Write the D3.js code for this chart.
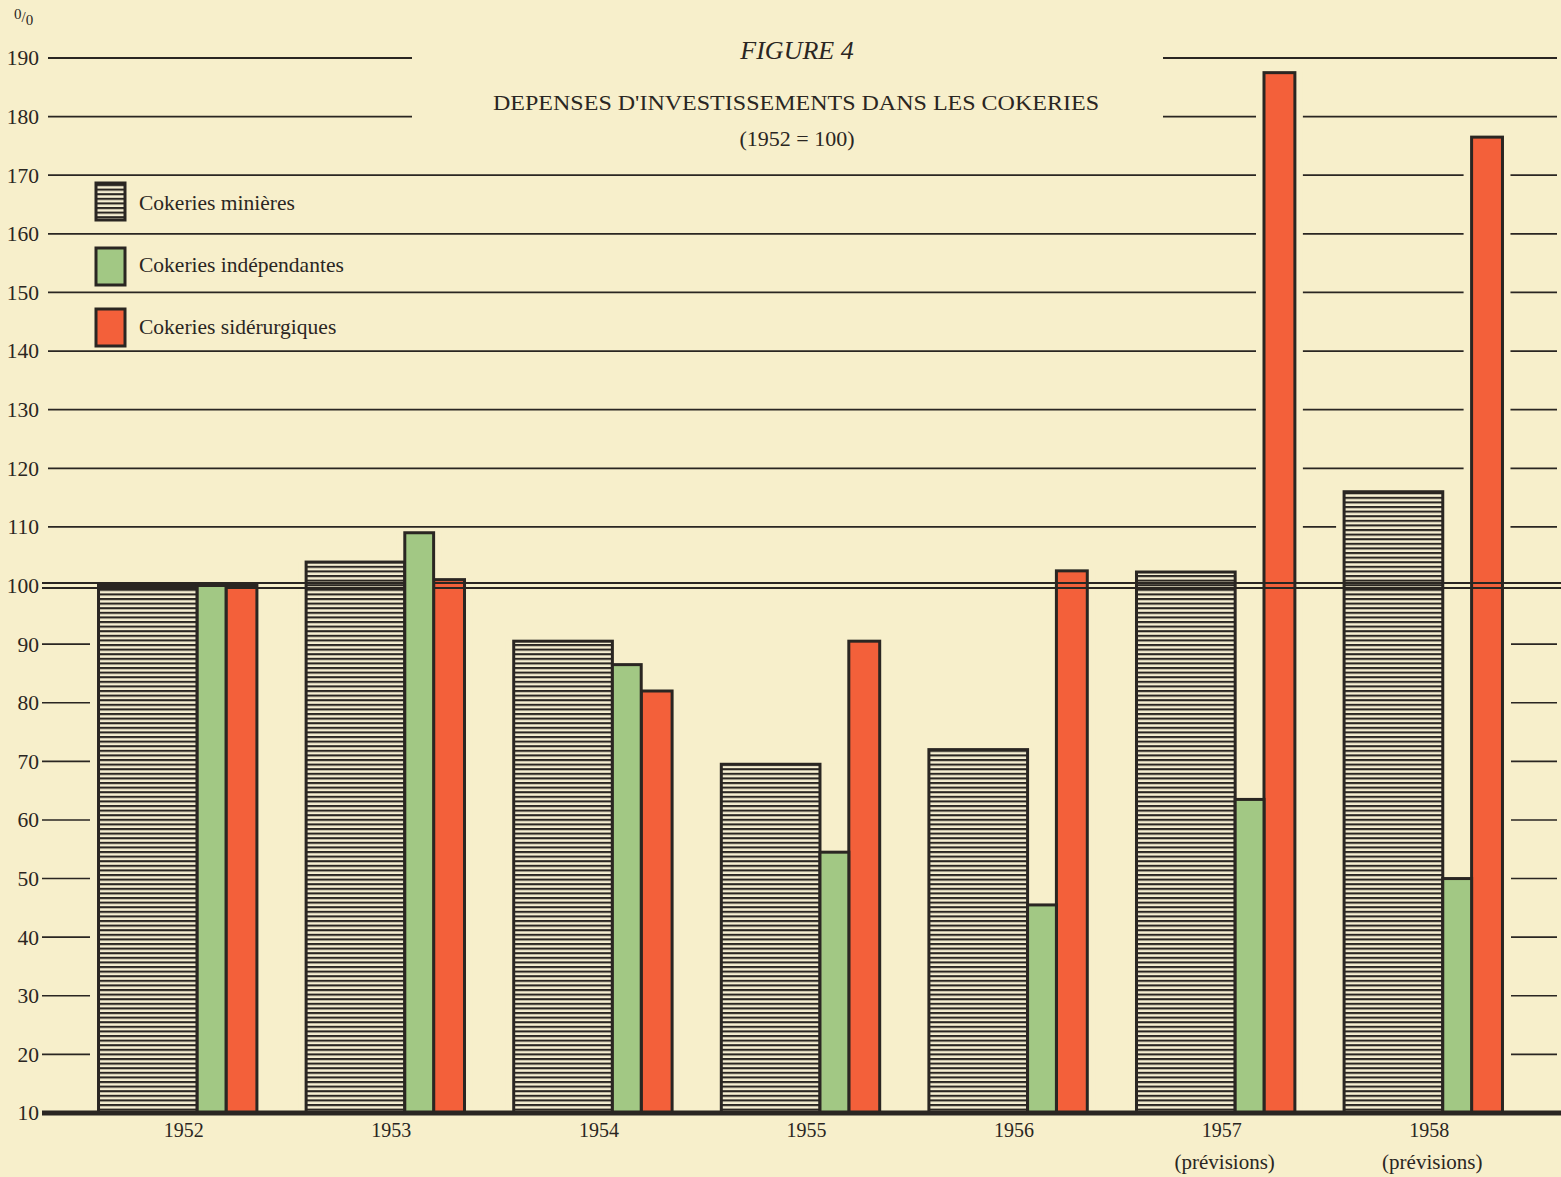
<!DOCTYPE html>
<html>
<head>
<meta charset="utf-8">
<script src="https://cdn.jsdelivr.net/npm/d3@7"></script>
<style>
  html, body { margin: 0; padding: 0; background: #f7efcb; }
  svg { display: block; }
  text { font-family: "Liberation Serif", "DejaVu Serif", serif; fill: #2a2622; }
</style>
</head>
<body>
<svg id="chart" width="1561" height="1177"></svg>
<script>
// ---------------- data ----------------
const years = ["1952", "1953", "1954", "1955", "1956", "1957", "1958"];
const yearNotes = ["", "", "", "", "", "(prévisions)", "(prévisions)"];
const seriesNames = ["Cokeries minières", "Cokeries indépendantes", "Cokeries sidérurgiques"];
const minieres = [100, 104, 90.5, 69.5, 72, 102.3, 116];
const independantes = [100, 109, 86.5, 54.5, 45.5, 63.5, 50];
const siderurgiques = [100, 101, 82, 90.5, 102.5, 187.5, 176.5];
const yTicks = [10, 20, 30, 40, 50, 60, 70, 80, 90, 100, 110, 120, 130, 140, 150, 160, 170, 180, 190];

// ---------------- layout ----------------
const W = 1561, H = 1177;
const BG = "#f7efcb", INK = "#2a2622", GREEN = "#a2c884", RED = "#f3603a";
const svg = d3.select("#chart");

const y = d3.scaleLinear().domain([10, 190]).range([1113, 58]);
const x = d3.scaleBand().domain(years).range([57, 1544]).paddingInner(0.237).paddingOuter(0.2);
const sub = d3.scaleOrdinal().domain([0, 1, 2]).range([[0, 0.623], [0.623, 0.805], [0.805, 1]]);

const defs = svg.append("defs");
const pat = defs.append("pattern").attr("id", "hatch").attr("patternUnits", "userSpaceOnUse")
  .attr("width", 10).attr("height", 4.6);
pat.append("rect").attr("width", 10).attr("height", 4.6).attr("fill", "#f6efd2");
pat.append("rect").attr("width", 10).attr("height", 2.1).attr("fill", "#2a2622");

svg.append("rect").attr("width", W).attr("height", H).attr("fill", BG);

const series = [minieres, independantes, siderurgiques];
const bars = [];
years.forEach((yr, i) => {
  series.forEach((vals, s) => {
    const [f0, f1] = sub(s);
    const x0 = x(yr) + f0 * x.bandwidth();
    const x1 = x(yr) + f1 * x.bandwidth();
    const maskV = s === 1 ? Math.max(vals[i], Math.min(minieres[i], siderurgiques[i])) : vals[i];
    bars.push({ yr, s, v: vals[i], x0, x1, maskV });
  });
});

// ---------------- grid ----------------
const grid = svg.append("g");
const upper = yTicks.filter(t => t > 100);
const lower = yTicks.filter(t => t > 10 && t < 100);
grid.selectAll("line.up").data(upper).join("line")
  .attr("x1", 48).attr("x2", 1557)
  .attr("y1", d => y(d)).attr("y2", d => y(d))
  .attr("stroke", INK).attr("stroke-width", 1.8);
grid.selectAll("line.lowL").data(lower).join("line")
  .attr("x1", 42).attr("x2", 90)
  .attr("y1", d => y(d)).attr("y2", d => y(d))
  .attr("stroke", INK).attr("stroke-width", 1.6);
grid.selectAll("line.lowR").data(lower).join("line")
  .attr("x1", 1511).attr("x2", 1557)
  .attr("y1", d => y(d)).attr("y2", d => y(d))
  .attr("stroke", INK).attr("stroke-width", 1.6);

// title block mask
svg.append("rect").attr("x", 412).attr("y", 40).attr("width", 1163 - 412).attr("height", 90).attr("fill", BG);

// masks around bars (gaps in gridlines)
svg.append("g").selectAll("rect").data(bars).join("rect")
  .attr("x", d => d.x0 - 8).attr("width", d => d.x1 - d.x0 + 16)
  .attr("y", d => y(d.maskV) - 1).attr("height", d => y(10) - y(d.maskV) + 1)
  .attr("fill", BG);

const drawBars = (data) => svg.append("g").selectAll("rect").data(data).join("rect")
  .attr("x", d => d.x0).attr("width", d => d.x1 - d.x0)
  .attr("y", d => y(d.v)).attr("height", d => y(10) - y(d.v))
  .attr("fill", d => d.s === 0 ? "url(#hatch)" : d.s === 1 ? GREEN : RED)
  .attr("stroke", INK).attr("stroke-width", 3);

drawBars(bars.filter(d => d.s === 0));
drawBars(bars.filter(d => d.s === 2));

// 100 double line
[-2.6, 2.6].forEach(o => {
  svg.append("line").attr("x1", 42).attr("x2", W)
    .attr("y1", y(100) + o).attr("y2", y(100) + o)
    .attr("stroke", INK).attr("stroke-width", 2);
});

drawBars(bars.filter(d => d.s === 1));

// baseline
svg.append("line").attr("x1", 42).attr("x2", W).attr("y1", y(10)).attr("y2", y(10))
  .attr("stroke", INK).attr("stroke-width", 5);

// ---------------- axes ----------------
const yAxis = svg.append("g").attr("transform", "translate(41,0)")
  .call(d3.axisLeft(y).tickValues(yTicks).tickSize(0).tickPadding(2));
yAxis.select(".domain").remove();
yAxis.selectAll("text").attr("font-size", 21.5).attr("font-family", "Liberation Serif").attr("fill", INK);

const xAxis = svg.append("g").attr("transform", `translate(6,${y(10) + 10})`)
  .call(d3.axisBottom(x).tickSize(0).tickPadding(0));
xAxis.select(".domain").remove();
xAxis.selectAll("text").attr("font-size", 20).attr("font-family", "Liberation Serif").attr("fill", INK);

svg.append("g").selectAll("text").data(years.map((yr, i) => ({ yr, note: yearNotes[i] })).filter(d => d.note))
  .join("text")
  .attr("x", d => x(d.yr) + x.bandwidth() / 2 + 9).attr("y", 1169)
  .attr("text-anchor", "middle").attr("font-size", 21).text(d => d.note);

// unit label  (0/0)
const unit = svg.append("text").attr("x", 14).attr("y", 22).attr("font-size", 15);
unit.append("tspan").attr("dy", -3).text("0");
unit.append("tspan").attr("dy", 3).text("/");
unit.append("tspan").attr("dy", 3).text("0");

// ---------------- titles ----------------
svg.append("text").attr("x", 797).attr("y", 59).attr("text-anchor", "middle")
  .attr("font-size", 26).attr("font-style", "italic").text("FIGURE 4");
svg.append("text").attr("x", 796).attr("y", 110).attr("text-anchor", "middle")
  .attr("font-size", 22).attr("textLength", 606).attr("lengthAdjust", "spacingAndGlyphs")
  .text("DEPENSES D'INVESTISSEMENTS DANS LES COKERIES");
svg.append("text").attr("x", 797).attr("y", 146).attr("text-anchor", "middle")
  .attr("font-size", 22).text("(1952 = 100)");

// ---------------- legend ----------------
const legendY = [183, 248, 309];
const legendTextY = [210, 272, 334];
const lg = svg.append("g");
seriesNames.forEach((name, s) => {
  lg.append("rect").attr("x", 96).attr("y", legendY[s]).attr("width", 29).attr("height", 37)
    .attr("fill", s === 0 ? "url(#hatch)" : s === 1 ? GREEN : RED)
    .attr("stroke", INK).attr("stroke-width", 3);
  lg.append("text").attr("x", 139).attr("y", legendTextY[s]).attr("font-size", 21.5).text(name);
});
</script>
</body>
</html>
